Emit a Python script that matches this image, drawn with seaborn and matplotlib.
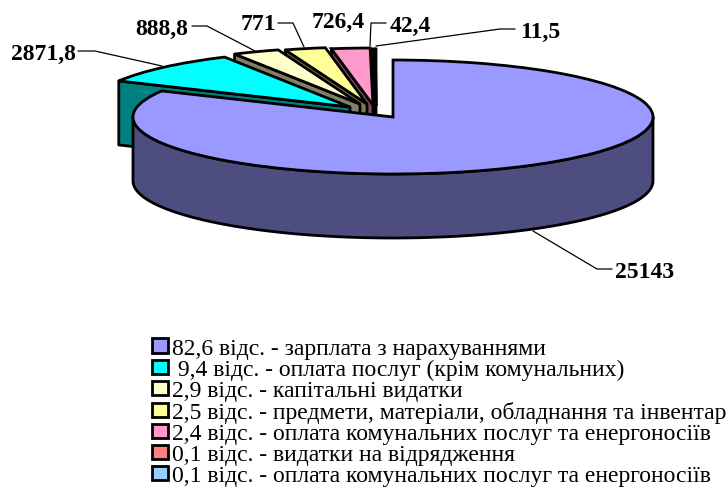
import numpy as np
import matplotlib
matplotlib.use("Agg")
import matplotlib.pyplot as plt
from matplotlib.patches import Polygon
import seaborn as sns

values = [25143, 2871.8, 888.8, 771, 726.4, 42.4, 11.5]
value_labels = ["25143", "2871,8", "888,8", "771", "726,4", "42,4", "11,5"]
legend_labels = [
    "82,6 відс. - зарплата з нарахуваннями",
    " 9,4 відс. - оплата послуг (крім комунальних)",
    "2,9 відс. - капітальні видатки",
    "2,5 відс. - предмети, матеріали, обладнання та інвентар",
    "2,4 відс. - оплата комунальних послуг та енергоносіїв",
    "0,1 відс. - видатки на відрядження",
    "0,1 відс. - оплата комунальних послуг та енергоносіїв",
]
top_colors = ["#9999FF", "#00FFFF", "#FFFFCC", "#FFFF99", "#FF99CC", "#FF8080", "#99CCFF"]
wall_colors = ["#4D4D80", "#008080", "#808066", "#80804D", "#804D66", "#804040", "#4D6680"]

W, H = 728, 489
CX, CY, RX, RY, DEPTH = 393, 118, 260, 57, 64
# pixel offset of each slice from the pie centre
shifts_px = [(0, 0), (-43, -10), (-33, -13), (-26, -13), (-20, -12), (-18, -11), (-17, -11)]

sns.set_theme(style="white")
plt.rcParams["font.family"] = ["Liberation Serif", "DejaVu Serif"]

fig = plt.figure(figsize=(W / 100, H / 100), dpi=100, facecolor="white")
ax = fig.add_axes([0, 0, 1, 1])

wedges, _ = ax.pie(values, startangle=90, counterclock=False, radius=1,
                   colors=top_colors,
                   wedgeprops=dict(edgecolor="black", linewidth=2.0))
ax.set_aspect("auto")
ax.set_xlim(-CX / RX, (W - CX) / RX)
ax.set_ylim((CY - H) / RY, CY / RY)
ax.axis("off")

dz = DEPTH / RY
edge = dict(edgecolor="black", linewidth=2.0, joinstyle="round")

def arc(c, a0, a1, n=80):
    t = np.radians(np.linspace(a0, a1, n))
    return np.c_[c[0] + np.cos(t), c[1] + np.sin(t)]

# walls, back to front
for i in range(len(values) - 1, -1, -1):
    w = wedges[i]
    c = (shifts_px[i][0] / RX, -shifts_px[i][1] / RY)
    w.set_center(c)
    w.set_zorder(5 if i else 9)
    if i == 0:
        a = arc(c, 180, 360)
        pts = np.r_[a, (a - [0, dz])[::-1]]
        ax.add_patch(Polygon(pts, closed=True, facecolor=wall_colors[0], zorder=8, **edge))
    else:
        # front cut face of the slice, on its leading (clockwise-start) radius
        t = np.radians(w.theta2)
        outer = np.array([c[0] + np.cos(t), c[1] + np.sin(t)])
        centre = np.array(c)
        pts = [centre, outer, outer - [0, dz], centre - [0, dz]]
        ax.add_patch(Polygon(pts, closed=True, facecolor=wall_colors[i], zorder=4, **edge))

# overlay in pixel coordinates for callouts
ov = fig.add_axes([0, 0, 1, 1], facecolor="none")
ov.set_xlim(0, W)
ov.set_ylim(H, 0)
ov.axis("off")

label_pos = [(615, 272), (43, 54), (162, 29), (258, 25), (338, 22), (410, 26), (540, 32)]
leaders = [
    [(533, 232), (597, 270), (612, 270)],
    [(78, 52), (95, 52), (162, 67)],
    [(192, 27), (207, 27), (255, 52)],
    [(278, 24), (293, 24), (304, 48)],
    [],
    [(386, 24), (371, 24), (370, 47)],
    [(515, 30), (500, 30), (376, 47)],
]
for txt, (x, y), line in zip(value_labels, label_pos, leaders):
    if line:
        ov.plot(*zip(*line), color="black", lw=0.9, zorder=20)
    ha = "left" if txt == "25143" else "center"
    ov.text(x, y, txt, ha=ha, va="center", fontsize=17, fontweight="bold", color="black", zorder=21)

leg = fig.legend(wedges, legend_labels, loc="upper left",
                 bbox_to_anchor=(152 / W, 1 - 339 / H), frameon=False,
                 fontsize=17, handlelength=0.68, handleheight=0.58,
                 handletextpad=0.16, labelspacing=0.0, borderpad=0, borderaxespad=0)
for t in leg.get_texts():
    t.set_color("black")

fig.savefig("out.png", dpi=100)
